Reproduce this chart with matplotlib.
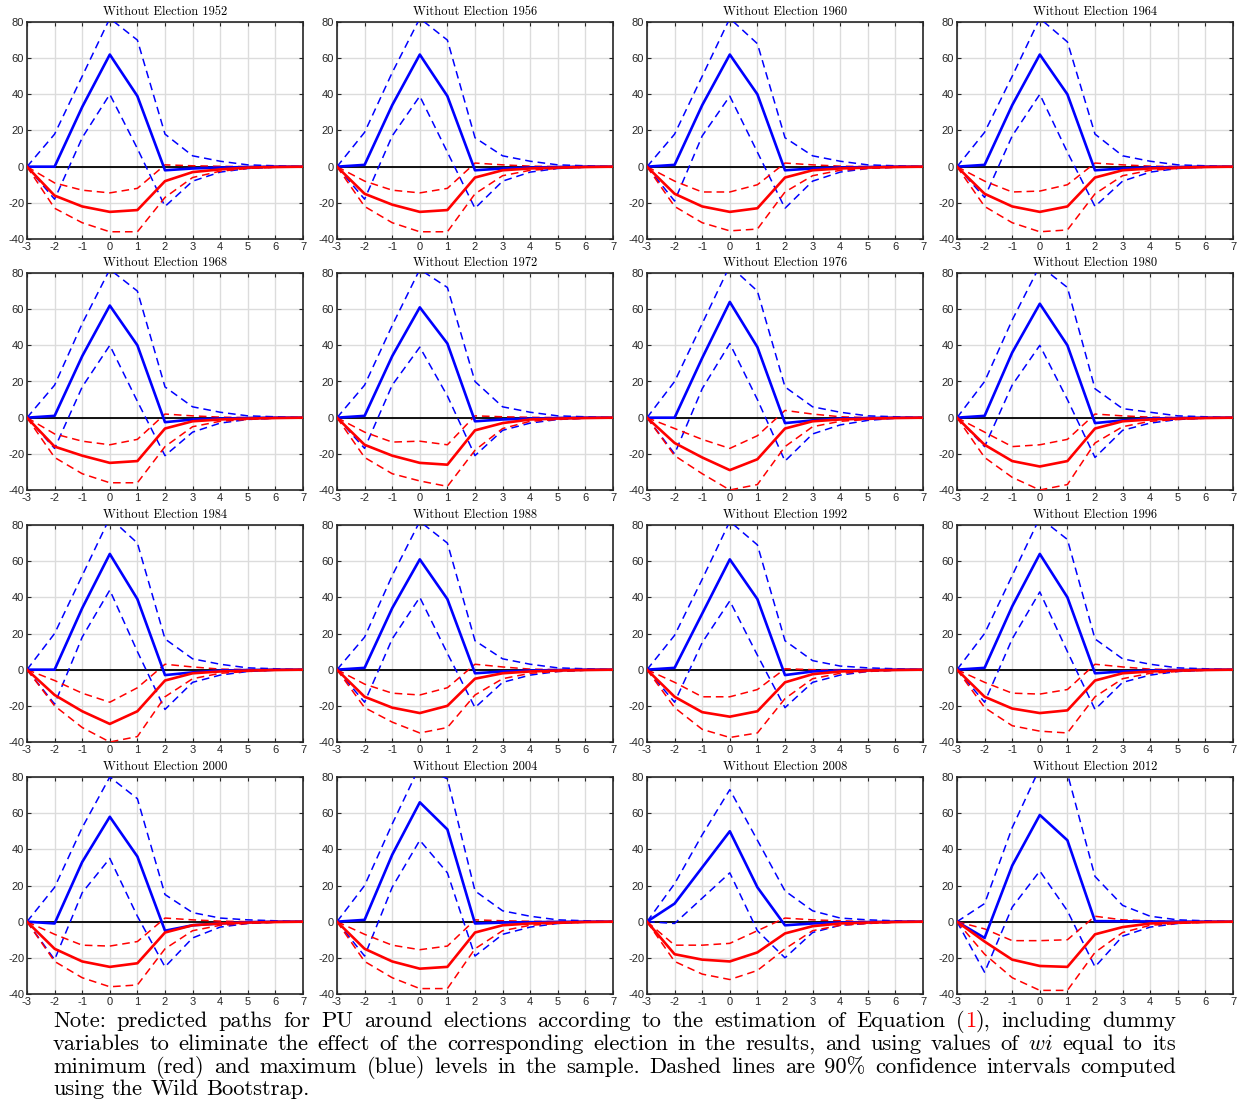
import numpy as np
import matplotlib
matplotlib.use("Agg")
import matplotlib.pyplot as plt

plt.rcParams['axes.unicode_minus'] = False
plt.rcParams['mathtext.fontset'] = 'cm'

## horizon (years around the election)
horizon = [-3, -2, -1, 0, 1, 2, 3, 4, 5, 6, 7]
years = [1952, 1956, 1960, 1964, 1968, 1972, 1976, 1980,
         1984, 1988, 1992, 1996, 2000, 2004, 2008, 2012]

## maximum wi (blue): point estimate, upper and lower 90% band
blue_mid = [
    [0, 0, 33, 62, 39, -2, -1, -0.5, -0.2, 0, 0],
    [0, 1, 34, 62, 39, -2, -1, -0.5, -0.2, 0, 0],
    [0, 1, 34, 62, 40, -2, -1, -0.5, -0.2, 0, 0],
    [0, 1, 34, 62, 40, -2, -1, -0.5, -0.2, 0, 0],
    [0, 1, 34, 62, 40, -2.5, -1, -0.5, -0.2, 0, 0],
    [0, 1, 34, 61, 41, -2, -1, -0.5, -0.2, 0, 0],
    [0, 0, 33, 64, 39, -3, -1.5, -0.5, -0.2, 0, 0],
    [0, 1, 36, 63, 40, -3, -1.5, -0.5, -0.2, 0, 0],
    [0, 0, 34, 64, 39, -3, -1.5, -0.5, -0.2, 0, 0],
    [0, 1, 34, 61, 39, -2, -1, -0.5, -0.2, 0, 0],
    [0, 1, 31, 61, 39, -3, -1, -0.5, -0.2, 0, 0],
    [0, 1, 35, 64, 40, -2, -1, -0.5, -0.2, 0, 0],
    [0, -1, 33, 58, 36, -5, -2, -1, -0.3, 0, 0],
    [0, 1, 37, 66, 51, -1, -0.5, -0.3, -0.1, 0, 0],
    [0, 10, 30, 50, 19, -2, -1, -0.5, -0.2, 0, 0],
    [0, -9, 31, 59, 45, 0.3, 0.2, 0.1, 0, 0, 0],
]
blue_hi = [
    [0, 18, 50, 82, 70, 18, 6, 3, 1, 0.5, 0],
    [0, 19, 52, 82, 70, 16, 6, 3, 1, 0.5, 0],
    [0, 18, 50, 82, 68, 16, 6, 3, 1, 0.5, 0],
    [0, 19, 50, 82, 69, 18, 6, 3, 1, 0.5, 0],
    [0, 18, 52, 82, 70, 17, 6, 3, 1, 0.5, 0],
    [0, 18, 51, 82, 72, 20, 6, 3, 1, 0.5, 0],
    [0, 20, 52, 84, 70, 17, 6, 3, 1, 0.5, 0],
    [0, 20, 54, 84, 72, 16, 5, 3, 1, 0.5, 0],
    [0, 20, 52, 84, 70, 17, 6, 3, 1, 0.5, 0],
    [0, 18, 52, 82, 70, 16, 6, 3, 1, 0.5, 0],
    [0, 19, 50, 82, 69, 16, 5, 2, 1, 0.5, 0],
    [0, 20, 52, 84, 72, 17, 6, 3, 1, 0.5, 0],
    [0, 19, 52, 80, 68, 15, 5, 2, 1, 0.5, 0],
    [0, 20, 54, 86, 79, 17, 6, 3, 1, 0.5, 0],
    [0, 21, 48, 73, 45, 17, 6, 2, 1, 0.5, 0],
    [0, 10, 52, 85, 82, 25, 9, 3, 1, 0.5, 0],
]
blue_lo = [
    [0, -18, 16, 40, 10, -22, -8, -3, -1, -0.3, 0],
    [0, -18, 17, 39, 8, -23, -8, -3, -1, -0.3, 0],
    [0, -19, 17, 39, 8, -23, -8, -3, -1, -0.3, 0],
    [0, -17, 17, 40, 8, -22, -8, -3, -1, -0.3, 0],
    [0, -17, 17, 40, 9, -21, -8, -3, -1, -0.3, 0],
    [0, -17, 18, 39, 12, -21, -7, -3, -1, -0.3, 0],
    [0, -20, 16, 41, 10, -24, -9, -4, -1.5, -0.3, 0],
    [0, -16, 18, 40, 10, -22, -7, -3, -1, -0.3, 0],
    [0, -19, 18, 44, 10, -22, -7, -3, -1, -0.3, 0],
    [0, -18, 17, 40, 9, -21, -7, -3, -1, -0.3, 0],
    [0, -18, 15, 38, 8, -21, -7, -3, -1, -0.3, 0],
    [0, -18, 17, 43, 10, -22, -7, -3, -1, -0.3, 0],
    [0, -21, 16, 35, 3, -25, -9, -3, -1, -0.3, 0],
    [0, -19, 19, 45, 27, -19, -7, -3, -1, -0.3, 0],
    [0, -1, 13, 27, -5, -20, -6, -2, -1, -0.3, 0],
    [0, -28, 8, 28, 6, -25, -8, -3, -1, -0.3, 0],
]

## minimum wi (red): point estimate, upper and lower 90% band
red_mid = [
    [0, -16, -22, -25, -24, -8, -3, -1.5, -0.5, -0.2, 0],
    [0, -15, -21, -25, -24, -6, -2, -1, -0.5, -0.2, 0],
    [0, -15, -22, -25, -23, -6, -2, -1, -0.5, -0.2, 0],
    [0, -15, -22, -25, -22, -6, -2, -1, -0.5, -0.2, 0],
    [0, -16, -21, -25, -24, -6, -2, -1, -0.5, -0.2, 0],
    [0, -15, -21, -25, -26, -7, -3, -1, -0.5, -0.2, 0],
    [0, -14, -22, -29, -23, -6, -2, -1, -0.5, -0.2, 0],
    [0, -15, -24, -27, -24, -6, -2, -1, -0.5, -0.2, 0],
    [0, -14, -23, -30, -23, -6, -2, -1, -0.5, -0.2, 0],
    [0, -15, -21, -24, -20, -5, -2, -1, -0.5, -0.2, 0],
    [0, -15, -23.5, -26, -23, -7, -2.5, -1, -0.5, -0.2, 0],
    [0, -15, -21.5, -24, -22.5, -6, -2, -1, -0.5, -0.2, 0],
    [0, -15, -22, -25, -23, -6, -2, -1, -0.5, -0.2, 0],
    [0, -15, -22, -26, -25, -6, -2, -1, -0.5, -0.2, 0],
    [0, -18, -21, -22, -17, -6.5, -2.5, -1, -0.5, -0.2, 0],
    [0, -11, -21, -24.5, -25, -7, -3, -1, -0.5, -0.2, 0],
]
red_hi = [
    [0, -9, -13, -14.5, -12, 1, 0.5, 0.2, 0, 0, 0],
    [0, -8, -13, -14.5, -12, 2, 1, 0.3, 0, 0, 0],
    [0, -8, -14, -14, -10, 2, 1, 0.3, 0, 0, 0],
    [0, -8, -14, -13.5, -10, 2, 1, 0.3, 0, 0, 0],
    [0, -9, -13, -15, -12, 2, 1, 0.3, 0, 0, 0],
    [0, -8, -13.5, -13, -15, 1, 0.5, 0.2, 0, 0, 0],
    [0, -6, -12, -17, -10, 4, 2, 0.5, 0, 0, 0],
    [0, -8, -16, -15, -12, 2, 1, 0.3, 0, 0, 0],
    [0, -6, -13, -18, -10, 3, 1.5, 0.3, 0, 0, 0],
    [0, -8, -13, -14, -10, 3, 1.5, 0.3, 0, 0, 0],
    [0, -7, -15, -15, -11, 0.5, 0, 0, 0, 0, 0],
    [0, -7, -13, -13.5, -11, 3, 1.5, 0.3, 0, 0, 0],
    [0, -7, -13, -13.5, -11, 2, 1, 0.3, 0, 0, 0],
    [0, -7, -13, -15.5, -13.5, 1, 0.5, 0.2, 0, 0, 0],
    [0, -13, -13, -12, -5, 2, 1, 0.5, 0, 0, 0],
    [0, -4, -10.5, -10.5, -10, 3, 1, 0.5, 0, 0, 0],
]
red_lo = [
    [0, -23, -31, -36, -36, -17, -6, -2.5, -1, -0.3, 0],
    [0, -22, -31, -36, -36, -15, -5, -2, -1, -0.3, 0],
    [0, -22, -31, -35.5, -34.5, -14, -5, -2, -1, -0.3, 0],
    [0, -22, -31, -36, -35, -15, -5, -2, -1, -0.3, 0],
    [0, -22, -31, -36, -36, -16, -5, -2, -1, -0.3, 0],
    [0, -22, -31, -35, -38, -18, -6, -2, -1, -0.3, 0],
    [0, -21, -31, -40, -37, -16, -5, -2, -1, -0.3, 0],
    [0, -22, -33, -40, -37, -14, -5, -2, -1, -0.3, 0],
    [0, -20, -32, -40, -37, -15, -5, -2, -1, -0.3, 0],
    [0, -21, -29, -35, -32, -14, -5, -2, -1, -0.3, 0],
    [0, -21, -33, -37.5, -35, -16, -5, -2, -1, -0.3, 0],
    [0, -21, -31, -34, -35, -15, -5, -2, -1, -0.3, 0],
    [0, -22, -31, -36, -35, -15, -5, -2, -1, -0.3, 0],
    [0, -22, -31, -37, -37, -15, -5, -2, -1, -0.3, 0],
    [0, -22, -29, -32, -27, -15, -5, -2, -1, -0.3, 0],
    [0, -18, -31, -38, -38, -17, -6, -2, -1, -0.3, 0],
]

## note lines; the "1" of the equation reference is red
note_lines = [
    'Note: predicted paths for PU around elections according to the estimation of Equation (|1|), including dummy',
    'variables to eliminate the effect of the corresponding election in the results, and using values of $wi$ equal to its',
    'minimum (red) and maximum (blue) levels in the sample. Dashed lines are 90% confidence intervals computed',
    'using the Wild Bootstrap.',
]

W, H = 1239, 1103
fig = plt.figure(figsize=(W / 100, H / 100), dpi=100)

## panel positions in pixels (left edge of each column, top edge of each row)
col_x = [27, 337, 647, 957]
row_y = [22, 273, 525, 777]
pw, ph = 276, 217

tick_font = dict(family=['Liberation Sans', 'DejaVu Sans'], size=8)
dash = (0, (5, 3.2))

for k, yr in enumerate(years):
	r, c = divmod(k, 4)
	ax = fig.add_axes([col_x[c] / W, 1 - (row_y[r] + ph) / H, pw / W, ph / H])
	ax.axhline(0, color='black', lw=1.3, zorder=2)
	ax.plot(horizon, blue_hi[k], color='blue', lw=1.1, ls=dash, zorder=3)
	ax.plot(horizon, blue_lo[k], color='blue', lw=1.1, ls=dash, zorder=3)
	ax.plot(horizon, red_hi[k], color='red', lw=1.1, ls=dash, zorder=3)
	ax.plot(horizon, red_lo[k], color='red', lw=1.1, ls=dash, zorder=3)
	ax.plot(horizon, blue_mid[k], color='blue', lw=1.9, zorder=4)
	ax.plot(horizon, red_mid[k], color='red', lw=1.9, zorder=4)

	ax.set_xlim(-3, 7)
	ax.set_ylim(-40, 80)
	ax.set_xticks(horizon)
	ax.set_yticks(np.arange(-40, 81, 20))
	ax.set_xticklabels([str(h) for h in horizon], **tick_font)
	ax.set_yticklabels([str(v) for v in range(-40, 81, 20)], **tick_font)
	ax.grid(True, color='#dcdcdc', lw=1.0, zorder=0)
	ax.set_axisbelow(True)
	ax.tick_params(direction='in', length=3, width=0.8, color='#262626',
	               labelcolor='#262626', top=True, right=True, pad=2)
	for s in ax.spines.values():
		s.set_color('#262626')
		s.set_linewidth(1.2)
	ax.set_title('Without Election ' + str(yr), fontfamily='cmr10', fontsize=9, pad=5)

## justified note text, word by word
note_font = dict(fontfamily='cmr10', fontsize=16.2)
renderer = fig.canvas.get_renderer()
x_left, x_right = 53, 1176
baselines = [1027, 1050, 1073, 1095]

def word_pieces(word):
	## split "(|1|)," into coloured pieces
	parts = word.split('|')
	return [(p, 'red' if i % 2 == 1 else 'black') for i, p in enumerate(parts) if p]

def piece_width(txt):
	t = fig.text(0, 0, txt, **note_font)
	w = t.get_window_extent(renderer).width
	t.remove()
	return w

for i, line in enumerate(note_lines):
	words = line.split(' ')
	widths = [sum(piece_width(p) for p, _ in word_pieces(w)) for w in words]
	space = piece_width('a a') - piece_width('aa')
	if i < len(note_lines) - 1:
		gap = (x_right - x_left - sum(widths)) / (len(words) - 1)
	else:
		gap = space
	x = x_left
	y = 1 - baselines[i] / H
	for w, ww in zip(words, widths):
		xp = x
		for p, col in word_pieces(w):
			fig.text(xp / W, y, p, color=col, va='baseline', ha='left', **note_font)
			xp += piece_width(p)
		x += ww + gap

fig.savefig('out.png', dpi=100)
